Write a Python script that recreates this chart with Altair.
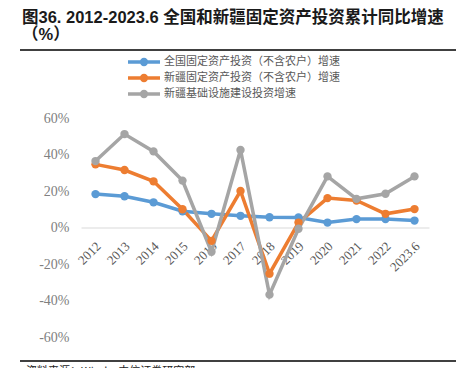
import altair as alt
import pandas as pd

years = ["2012", "2013", "2014", "2015", "2016", "2017", "2018", "2019", "2020", "2021", "2022", "2023.6"]
national = [18.3, 17.1, 13.8, 8.9, 7.5, 6.4, 5.6, 5.5, 2.7, 4.6, 4.6, 3.8]
xinjiang = [34.6, 31.5, 25.3, 10.0, -7.3, 20.0, -25.3, 2.7, 16.1, 14.8, 7.5, 10.1]
infra = [36.4, 51.2, 41.7, 25.7, -13.3, 42.5, -36.8, -0.7, 28.0, 15.7, 18.5, 28.0]

series_names = [
    "全国固定资产投资（不含农户）增速",
    "新疆固定资产投资（不含农户）增速",
    "新疆基础设施建设投资增速",
]
series_colors = ["#5B9BD5", "#ED7D31", "#A5A5A5"]
y_ticks = [-60, -40, -20, 0, 20, 40, 60]
title_line1 = "图36. 2012-2023.6 全国和新疆固定资产投资累计同比增速"
title_line2 = "（%）"
footer_text = "资料来源：Wind，中信证券研究部"

rows = []
for name, vals in zip(series_names, [national, xinjiang, infra]):
    for i, (yr, v) in enumerate(zip(years, vals)):
        rows.append({"year": yr, "value": v, "series": name, "order": i})
df = pd.DataFrame(rows)

PLOT_W, PLOT_H = 348, 219
PAD = {"left": 73, "top": 110, "right": 39, "bottom": 31}

x_enc = alt.X(
    "year:N",
    sort=years,
    scale=alt.Scale(type="band", paddingInner=0, paddingOuter=0),
    axis=alt.Axis(
        title=None,
        orient="bottom",
        offset=-(PLOT_H / 2),
        domainColor="#D9D9D9",
        domainWidth=1.2,
        ticks=False,
        labelAngle=-45,
        labelAlign="right",
        labelBaseline="top",
        labelPadding=12,
        labelOffset=-1,
        labelFont="Liberation Serif",
        labelFontSize=13,
        labelColor="#595959",
    ),
)
y_enc = alt.Y(
    "value:Q",
    scale=alt.Scale(domain=[-60, 60], nice=False, zero=False),
    axis=alt.Axis(
        title=None,
        values=y_ticks,
        domain=False,
        ticks=False,
        grid=False,
        labelExpr="datum.value + '%'",
        labelPadding=12,
        labelFont="Liberation Serif",
        labelFontSize=14,
        labelColor="#808080",
    ),
)
color_scale = alt.Scale(domain=series_names, range=series_colors)

base = alt.Chart(df)
lines = base.mark_line(strokeWidth=3.5).encode(
    x=x_enc,
    y=y_enc,
    color=alt.Color(
        "series:N",
        scale=color_scale,
        sort=series_names,
        legend=alt.Legend(
            title=None,
            orient="none",
            legendX=57,
            legendY=-62,
            direction="vertical",
            symbolType="M-4,0H4M-0.6,0A0.6,0.6,0,1,1,0.6,0A0.6,0.6,0,1,1,-0.6,0Z",
            symbolSize=64,
            symbolStrokeWidth=3.5,
            labelOffset=14,
            rowPadding=-4,
            labelFont="Noto Sans CJK SC",
            labelFontSize=11,
            labelColor="#595959",
            labelLimit=300,
        ),
    ),
    order="order:Q",
)
points = base.mark_circle(size=70, opacity=1).encode(
    x=x_enc,
    y=y_enc,
    color=alt.Color("series:N", scale=color_scale, sort=series_names),
)

deco = pd.DataFrame({"k": [0]})
top_rule = alt.Chart(deco).mark_rule(color="#000000", strokeWidth=1.5).encode(
    x=alt.value(-61), x2=alt.value(375), y=alt.value(-68)
)
bottom_rule = alt.Chart(deco).mark_rule(color="#000000", strokeWidth=1.5).encode(
    x=alt.value(-61), x2=alt.value(375), y=alt.value(243)
)
footer = alt.Chart(deco).mark_text(
    text=footer_text, align="left", baseline="top", font="Noto Sans CJK SC",
    fontSize=11, color="#222222"
).encode(x=alt.value(-55), y=alt.value(248))
title1 = alt.Chart(deco).mark_text(
    text=title_line1, align="left", baseline="alphabetic",
    font="Liberation Sans, Noto Sans CJK SC", fontSize=16.5, fontWeight="bold",
    color="#1a1a1a"
).encode(x=alt.value(-59), y=alt.value(-95))
title2 = alt.Chart(deco).mark_text(
    text=title_line2, align="left", baseline="alphabetic",
    font="Liberation Sans, Noto Sans CJK SC", fontSize=16.5, fontWeight="bold",
    color="#1a1a1a"
).encode(x=alt.value(-59), y=alt.value(-78))

chart = alt.layer(lines, points, top_rule, bottom_rule, footer, title1, title2).properties(
    width=PLOT_W,
    height=PLOT_H,
    padding=PAD,
    autosize=alt.AutoSizeParams(type="none"),
).configure_view(stroke=None)

chart.save("out.html", embed_options={"renderer": "svg", "actions": False})
